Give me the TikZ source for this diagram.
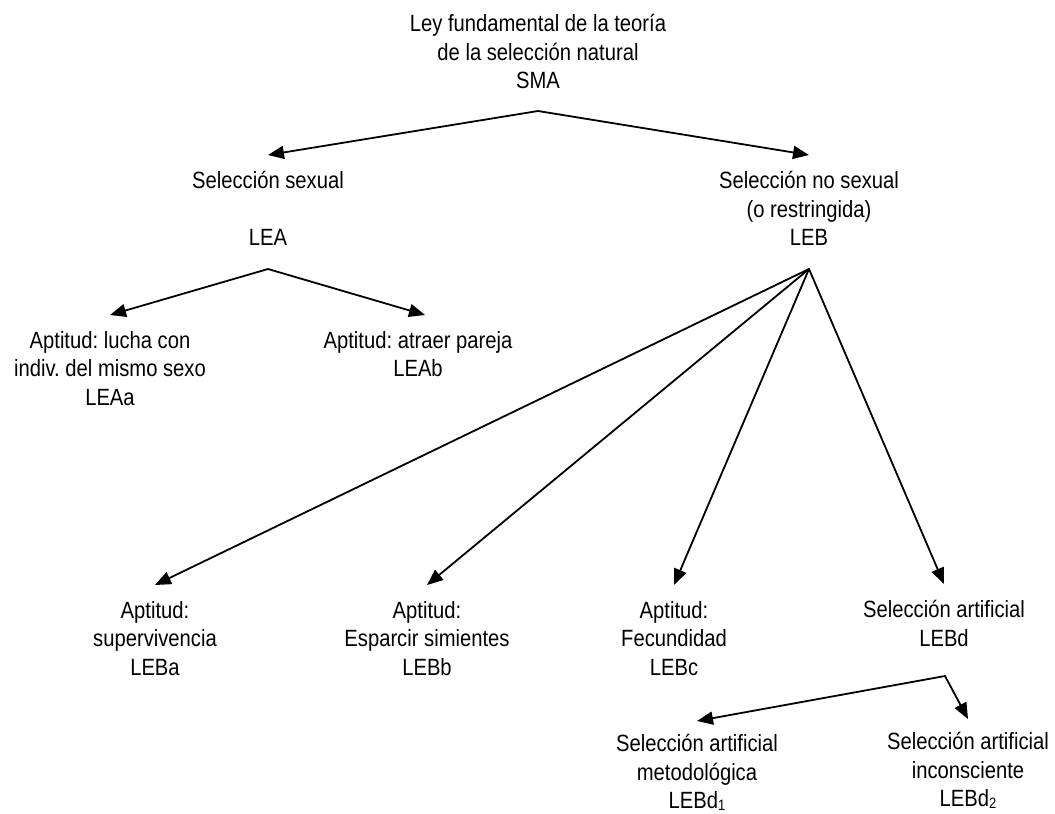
\documentclass[tikz,border=0pt]{standalone}
\usepackage{fontspec}
\setmainfont[FakeStretch=0.86]{Liberation Sans}
\frenchspacing
\usetikzlibrary{arrows.meta}
\newcommand{\lowidx}[1]{\raisebox{-1.5pt}{\fontsize{15pt}{15pt}\selectfont#1}}
\tikzset{tree arrow/.style=
	{-{Triangle[length=16pt,width=13pt]},
		line width=1.8pt},
	tree label/.style=
	{align=center, anchor=north, inner xsep=0pt, inner ysep=16pt,
		font=\fontsize{23.5pt}{28.5pt}\selectfont},
}

\begin{document}
\begin{tikzpicture}[x=1pt,y=-1pt,line cap=round,line join=round]
			\useasboundingbox (0,0) rectangle (1055,814);
			
			\node[tree label, inner ysep=0pt] (sma) at (538,14) {Ley fundamental de la teoría\\de la selección natural\\SMA};
			\coordinate (smafork) at (538,111);
			
			\node[tree label] (lea) at (268,155) {Selección sexual\\[28.5pt]LEA};
			\node[tree label] (leb) at (809,155) {Selección no sexual\\(o restringida)\\LEB};
			\draw[tree arrow] (smafork) -- (lea.north);
			\draw[tree arrow] (smafork) -- (leb.north);
			
			% sexual selection
			\coordinate (leafork) at (268,269);
			\node[tree label] (leaa) at (110,315) {Aptitud: lucha con\\indiv. del mismo sexo\\LEAa};
			\node[tree label] (leab) at (418,315) {Aptitud: atraer pareja\\LEAb};
			\draw[tree arrow] (leafork) -- (leaa.north);
			\draw[tree arrow] (leafork) -- ([xshift=7pt]leab.north);
			
			% non sexual selection
			\coordinate (lebfork) at (809,269);
			\node[tree label] (leba) at (155,585) {Aptitud:\\supervivencia\\LEBa};
			\node[tree label] (lebb) at (427,585) {Aptitud:\\Esparcir simientes\\LEBb};
			\node[tree label] (lebc) at (674,585) {Aptitud:\\Fecundidad\\LEBc};
			\node[tree label] (lebd) at (944,584) {Selección artificial\\LEBd};
			\foreach \n in {leba,lebb,lebc,lebd}{
				\draw[tree arrow] (lebfork) -- (\n.north);}
			
			% artificial selection
			\coordinate (lebdfork) at (945,676);
			\node[tree label, inner ysep=13pt] (lebda) at (697,721) {Selección artificial\\metodológica\\LEBd\lowidx{1}};
			\node[tree label, inner ysep=13pt] (lebdb) at (968,719) {Selección artificial\\inconsciente\\LEBd\lowidx{2}};
			\draw[tree arrow] (lebdfork) -- (lebda.north);
			\draw[tree arrow] (lebdfork) -- (lebdb.north);
		\end{tikzpicture}
\end{document}
